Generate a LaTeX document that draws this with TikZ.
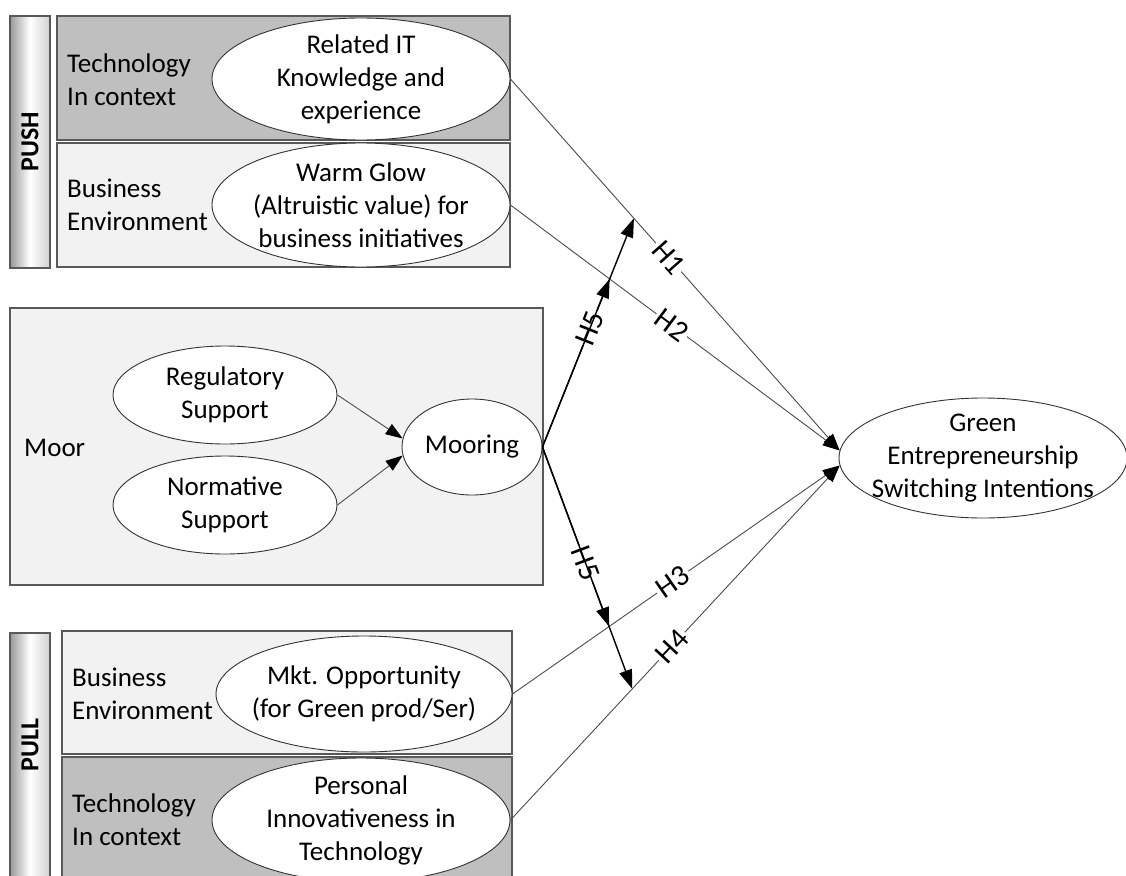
\documentclass[tikz,border=0pt]{standalone}
\usepackage{fontspec}
\setmainfont{Carlito}
\usetikzlibrary{shapes.geometric,arrows.meta,intersections}
\definecolor{darkbox}{HTML}{BFBFBF}
\definecolor{lightbox}{HTML}{F2F2F2}
\definecolor{edge}{HTML}{595959}
\begin{document}
\begin{tikzpicture}[x=1pt,y=-1pt,
  font=\fontsize{27}{33}\selectfont,
  boxdark/.style={draw=edge, line width=1.5pt, fill=darkbox, inner sep=0pt},
  boxlight/.style={draw=edge, line width=1.5pt, fill=lightbox, inner sep=0pt},
  sidebar/.style={draw=edge, line width=1.5pt, left color=black!40, right color=black!18, middle color=white, inner sep=0pt, minimum width=40pt},
  sidetext/.style={rotate=90, font=\fontsize{26}{30}\selectfont\bfseries},
  boxtext/.style={anchor=west, align=left, inner sep=0pt},
  oval/.style={ellipse, draw=black!80, line width=0.9pt, fill=white, inner sep=0pt},
  ovaltext/.style={align=center, inner sep=0pt},
  hline/.style={draw=black!70, line width=0.9pt, -{Triangle[length=17pt,width=12pt,color=black,fill=black]}},
  hfive/.style={draw=black, line width=1.4pt, -{Triangle[length=19pt,width=13pt,color=black,fill=black]}},
  hlab/.style={sloped, fill=white, inner sep=2pt, font=\fontsize{30}{34}\selectfont}
]
\useasboundingbox (0,0) rectangle (1126,875);
\fill[white] (0,0) rectangle (1126,875);

% PUSH block
\node[sidebar, minimum height=252pt] (pushbar) at (30,142) {};
\node[sidetext] (pushtxt) at (pushbar) {PUSH};
\node[boxdark, minimum width=453pt, minimum height=124pt] (tbox1) at (283.5,78) {};
\node[boxlight, minimum width=453pt, minimum height=124pt] (bbox1) at (283.5,205) {};
\node[boxtext] (ttxt1) at (67,80) {Technology\\In context};
\node[boxtext] (btxt1) at (67,205) {Business\\Environment};
\node[oval, minimum width=298pt, minimum height=122pt,
  label={[ovaltext]center:Related IT\\Knowledge and\\experience}] (rit) at (361,79) {};
\node[oval, minimum width=298pt, minimum height=124pt,
  label={[ovaltext]center:Warm Glow\\(Altruistic value) for\\business initiatives}] (warm) at (361,205) {};

% Moor block
\node[boxlight, minimum width=533pt, minimum height=277pt] (moorbox) at (276.5,446.5) {};
\node[boxtext] (moortxt) at (24,448) {Moor};
\node[oval, minimum width=224pt, minimum height=98pt,
  label={[ovaltext]center:Regulatory\\Support}] (reg) at (225,395) {};
\node[oval, minimum width=224pt, minimum height=98pt,
  label={[ovaltext]center:Normative\\Support}] (norm) at (225,505) {};
\node[oval, minimum width=140pt, minimum height=96pt,
  label={[ovaltext]center:Mooring}] (moor) at (472,447) {};

% PULL block
\node[sidebar, minimum height=250pt] (pullbar) at (30,758) {};
\node[sidetext] (pulltxt) at (30,745) {PULL};
\node[boxlight, minimum width=450pt, minimum height=123pt] (bbox2) at (287,692.5) {};
\node[boxdark, minimum width=450pt, minimum height=133pt] (tbox2) at (287,823.5) {};
\node[boxtext] (btxt2) at (72,694) {Business\\Environment};
\node[boxtext] (ttxt2) at (72,820) {Technology\\In context};
\node[oval, minimum width=296pt, minimum height=116pt,
  label={[ovaltext]center:Mkt. Opportunity\\(for Green prod/Ser)}] (mkt) at (364,694) {};
\node[oval, minimum width=298pt, minimum height=124pt,
  label={[ovaltext]center:Personal\\Innovativeness in\\Technology}] (pers) at (361,820) {};

% Outcome
\node[oval, minimum width=288pt, minimum height=120pt,
  label={[ovaltext]center:Green\\Entrepreneurship\\Switching Intentions}] (green) at (983,458) {};

% Mooring antecedents
\draw[hline] (reg.east) -- (moor.173);
\draw[hline] (norm.east) -- (moor.187);

% Hypotheses
\draw[hline, name path=h1] (rit.east) -- coordinate[pos=0.375] (p1) node[hlab, pos=0.48] (l1) {H1} (green.177);
\draw[hline, name path=h2] (warm.east) -- node[hlab, pos=0.49] (l2) {H2} (green.177);
\draw[hline, name path=h3] (mkt.east) -- node[hlab, pos=0.49] (l3) {H3} (green.183);
\draw[hline, name path=h4] (pers.east) -- coordinate[pos=0.37] (p4) node[hlab, pos=0.49] (l4) {H4} (green.183);

% Moderating H5
\path[name path=h5u] (moor.east) -- (p1);
\path[name path=h5d] (moor.east) -- (p4);
\path[name intersections={of=h5u and h2, by=x2}];
\path[name intersections={of=h5d and h3, by=x3}];
\draw[hfive] (moor.east) -- node[hlab, pos=0.52] (l5u) {H5} (p1);
\draw[hfive] (moor.east) -- (x2);
\draw[hfive] (moor.east) -- node[hlab, pos=0.48] (l5d) {H5} (p4);
\draw[hfive] (moor.east) -- (x3);
\end{tikzpicture}
\end{document}
